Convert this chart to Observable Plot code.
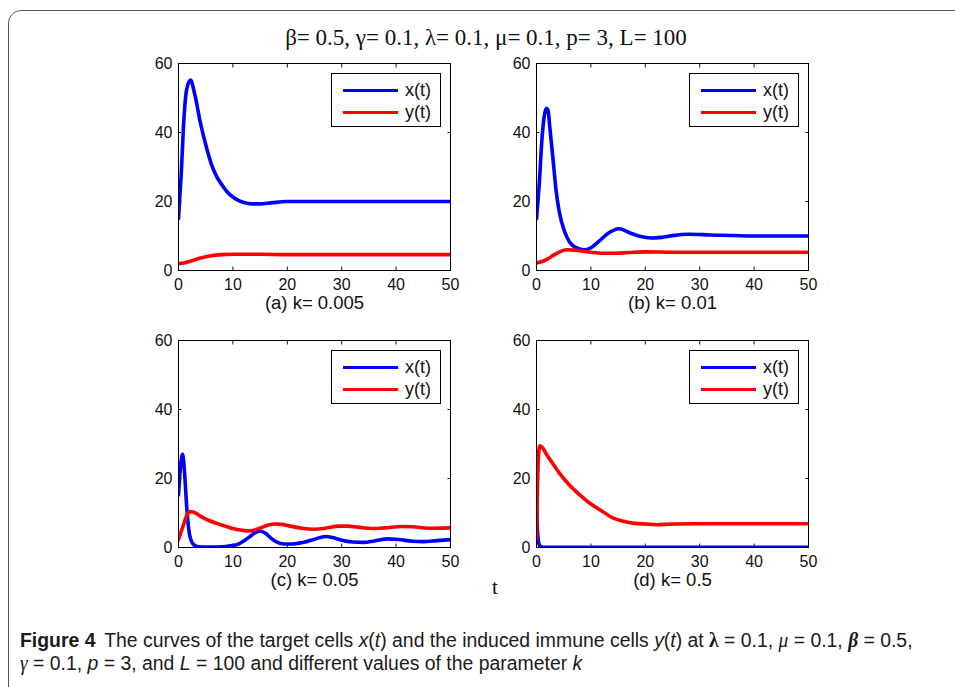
<!DOCTYPE html>
<html>
<head>
<meta charset="utf-8">
<script src="https://cdn.jsdelivr.net/npm/d3@7"></script>
<script src="https://cdn.jsdelivr.net/npm/@observablehq/plot@0.6"></script>
<style>
  html, body { margin: 0; padding: 0; background: #fff; }
  body { width: 955px; height: 687px; overflow: hidden; position: relative;
         font-family: "Liberation Sans", Arial, sans-serif; color: #111; }
  #box { position: absolute; left: 8px; top: 10px; width: 990px; height: 700px;
         border: 1.6px solid #5a5a5a; border-radius: 13px; box-sizing: border-box; }
  #title { position: absolute; left: 0; width: 972px; top: 24px; text-align: center;
           font-family: "Liberation Serif", "Times New Roman", serif; font-size: 23px; line-height: 28px; }
  #tlabel { position: absolute; left: 492px; top: 575px;
            font-family: "Liberation Serif", "Times New Roman", serif; font-size: 21px; }
  .panel { position: absolute; }
  .legend { position: absolute; width: 110px; height: 54px; border: 1px solid #000;
            background: #fff; box-sizing: border-box; }
  .legend .row { position: absolute; left: 0; height: 22px; }
  .legend .sw { position: absolute; left: 11px; width: 55px; height: 3.6px; }
  .legend .tx { position: absolute; left: 73px; font-size: 18px; line-height: 20px; white-space: nowrap; }
  #caption { position: absolute; left: 20px; top: 629px; font-size: 20px; line-height: 23px;
             font-family: "Liberation Sans", Arial, sans-serif; color: #1a1a1a; white-space: nowrap;
             transform: scaleX(0.97); transform-origin: 0 0; }
  #caption .fig { font-weight: bold; margin-right: 9px; }
  #caption .g { font-family: "Liberation Serif", "DejaVu Serif", serif; font-style: italic; }
</style>
</head>
<body>
<div id="box"></div>
<div id="title">β= 0.5, γ= 0.1, λ= 0.1, μ= 0.1, p= 3, L= 100</div>
<div id="tlabel">t</div>
<div id="caption"><span class="fig">Figure 4</span>The curves of the target cells <i>x</i>(<i>t</i>) and the induced immune cells <i>y</i>(<i>t</i>) at <b class="g" style="font-style:normal">λ</b> = 0.1, <span class="g">μ</span> = 0.1, <b class="g">β</b> = 0.5,<br><span class="g">γ</span> = 0.1, <i>p</i> = 3, and <i>L</i> = 100 and different values of the parameter <i>k</i></div>

<script>
// Tick values shared by every panel
const xTicks = [0, 10, 20, 30, 40, 50];
const yTicks = [0, 20, 40, 60];

// Series names and colours
const seriesNames = ["x(t)", "y(t)"];
const seriesColors = ["#0000ff", "#ff0000"];

// Parameter k of each panel
const kValues = ["0.005", "0.01", "0.05", "0.5"];
const panelTags = ["(a)", "(b)", "(c)", "(d)"];

// (a) k = 0.005
const tA_x = [0, 0.5, 1, 1.5, 2.2, 3, 4, 5, 6, 7, 8, 9, 10, 11, 12, 13.5, 15, 17, 20, 25, 30, 40, 50];
const xA   = [15, 28, 44, 52.5, 55.2, 51, 43, 36.5, 31, 27.3, 24.8, 22.7, 21.3, 20.3, 19.7, 19.3, 19.3, 19.6, 20, 20, 20, 20, 20];
const tA_y = [0, 1, 2, 3, 4, 5, 6, 8, 10, 15, 20, 30, 50];
const yA   = [2, 2.2, 2.6, 3.1, 3.6, 4.0, 4.3, 4.6, 4.7, 4.7, 4.6, 4.6, 4.6];

// (b) k = 0.01
const tB_x = [0, 0.5, 1, 1.4, 1.8, 2.1, 2.5, 3, 3.6, 4.2, 5.2, 6.1, 7.3, 8.8, 10, 11.5, 13, 15.2, 17, 19, 21, 23, 25, 28, 32, 40, 50];
const xB   = [15, 25, 38, 44.5, 47, 46.5, 40.7, 32.9, 23.2, 16.9, 11.1, 8.2, 6.6, 6.0, 6.6, 8.5, 10.6, 12.1, 11, 9.9, 9.4, 9.6, 10.1, 10.5, 10.3, 10, 10];
const tB_y = [0, 1, 2, 3, 4, 5.5, 7, 8.5, 10, 12, 14, 17, 20, 25, 30, 50];
const yB   = [2.2, 2.6, 3.3, 4.3, 5.2, 6.0, 5.9, 5.6, 5.3, 5.0, 5.0, 5.2, 5.4, 5.3, 5.3, 5.3];

// (c) k = 0.05
const tC_x = [0, 0.4, 0.75, 1.1, 1.5, 1.8, 2.1, 2.8, 3.7, 6, 8, 9.5, 11, 12, 13, 14, 15, 16, 17, 18, 19.5, 21, 23, 25, 27, 28.5, 30, 32, 34, 36, 38.5, 40.5, 43, 45, 47.5, 50];
const xC   = [15.2, 24, 27, 22, 12, 6.5, 3.2, 0.8, 0.2, 0.1, 0.2, 0.5, 1.0, 1.9, 3.0, 4.2, 4.8, 4.1, 2.7, 1.6, 1.0, 1.0, 1.5, 2.4, 3.2, 2.8, 2.1, 1.6, 1.5, 1.9, 2.5, 2.3, 1.8, 1.7, 2.0, 2.3];
const tC_y = [0, 0.9, 1.6, 2.2, 3, 4, 5.5, 7, 8.6, 10, 11.7, 13, 14, 15.3, 16.5, 17.8, 19, 20.2, 22.7, 25, 27, 29.4, 31, 33, 35.5, 38, 41, 43, 46, 50];
const yC   = [2.3, 6.5, 9.5, 10.4, 10.1, 9.1, 7.9, 7.0, 6.2, 5.5, 5.0, 4.8, 5.1, 5.8, 6.5, 6.8, 6.7, 6.3, 5.6, 5.3, 5.6, 6.2, 6.2, 5.9, 5.5, 5.7, 6.1, 6.0, 5.6, 5.7];

// (d) k = 0.5
const tD_x = [0, 0.05, 0.15, 0.3, 0.5, 0.8, 1.5, 50];
const xD   = [15, 12, 6, 2.5, 0.8, 0.25, 0.05, 0.05];
const tD_y = [0, 0.05, 0.15, 0.35, 0.6, 1, 2, 3, 4, 5, 6, 8, 10, 12, 14, 16, 18, 20, 22, 25, 30, 40, 50];
const yD   = [2.3, 8, 16, 26, 29.5, 29.1, 26.6, 24.3, 22, 20, 18.2, 15.2, 12.6, 10.6, 8.6, 7.6, 7.0, 6.8, 6.6, 6.8, 6.9, 6.9, 6.9];

const seriesT = [[tA_x, tA_y], [tB_x, tB_y], [tC_x, tC_y], [tD_x, tD_y]];
const seriesV = [[xA, yA], [xB, yB], [xC, yC], [xD, yD]];

// Page layout of each plot frame
const frameLeft = [178, 536, 178, 536];
const frameTop = [63, 63, 340, 340];
const frameW = 272, frameH = 207;
const mL = 40, mR = 28, mT = 12, mB = 50;

function rows(t, v) { return t.map((tt, i) => ({t: tt, v: v[i]})); }

for (let p = 0; p < 4; p++) {
  const [tx, ty] = seriesT[p];
  const [vx, vy] = seriesV[p];
  const chart = Plot.plot({
    width: mL + frameW + mR,
    height: mT + frameH + mB,
    marginLeft: mL, marginRight: mR, marginTop: mT, marginBottom: mB,
    x: {domain: [0, 50]},
    y: {domain: [0, 60]},
    style: {fontFamily: "Liberation Sans, Arial, sans-serif", fontSize: "16px", color: "#111",
            background: "transparent", overflow: "visible"},
    marks: [
      // inward ticks on all four sides
      Plot.axisX({ticks: xTicks, anchor: "bottom", tickSize: -3.5, fill: "none", label: null}),
      Plot.axisX({ticks: xTicks, anchor: "top", tickSize: -3.5, fill: "none", label: null}),
      Plot.axisY({ticks: yTicks, anchor: "left", tickSize: -3.5, fill: "none", label: null}),
      Plot.axisY({ticks: yTicks, anchor: "right", tickSize: -3.5, fill: "none", label: null}),
      // tick labels
      Plot.axisX({ticks: xTicks, anchor: "bottom", tickSize: 0, tickPadding: 8, label: null, fontSize: 16}),
      Plot.axisY({ticks: yTicks, anchor: "left", tickSize: 0, tickPadding: 6, label: null, fontSize: 16}),
      // curves are clipped to the axes box
      Plot.lineY(rows(tx, vx), {x: "t", y: "v", stroke: seriesColors[0], strokeWidth: 3.6, curve: "monotone-x", clip: true}),
      Plot.lineY(rows(ty, vy), {x: "t", y: "v", stroke: seriesColors[1], strokeWidth: 3.6, curve: "monotone-x", clip: true}),
      Plot.frame({stroke: "#000", strokeWidth: 1}),
      Plot.text([`${panelTags[p]} k= ${kValues[p]}`], {frameAnchor: "bottom", dy: 38, fontSize: 18.5, fill: "#111"})
    ]
  });
  const wrap = document.createElement("div");
  wrap.className = "panel";
  wrap.style.left = (frameLeft[p] - mL) + "px";
  wrap.style.top = (frameTop[p] - mT) + "px";
  wrap.appendChild(chart);
  document.body.appendChild(wrap);

  // legend box in the upper right corner of the frame
  const lg = document.createElement("div");
  lg.className = "legend";
  lg.style.left = (frameLeft[p] + frameW - 9 - 110) + "px";
  lg.style.top = (frameTop[p] + 10) + "px";
  seriesNames.forEach((name, i) => {
    const row = document.createElement("div");
    row.className = "row";
    row.style.top = (5 + i * 22) + "px";
    const sw = document.createElement("div");
    sw.className = "sw";
    sw.style.background = seriesColors[i];
    sw.style.top = "9.5px";
    const tx2 = document.createElement("div");
    tx2.className = "tx";
    tx2.style.top = "1px";
    tx2.textContent = name;
    row.appendChild(sw);
    row.appendChild(tx2);
    lg.appendChild(row);
  });
  document.body.appendChild(lg);
}
</script>
</body>
</html>
